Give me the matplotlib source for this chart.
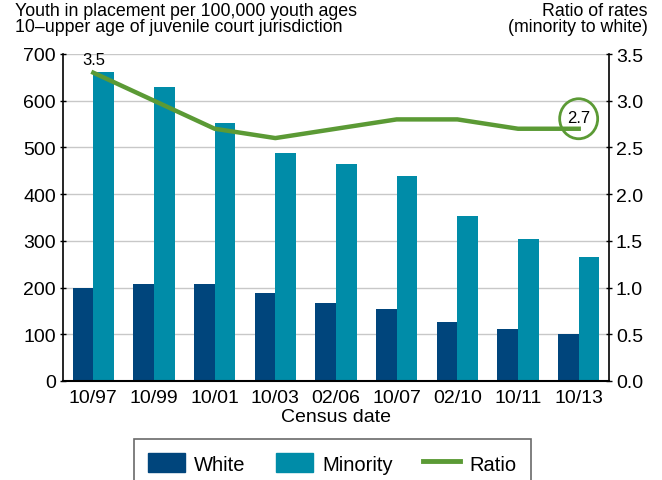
import matplotlib.pyplot as plt
import numpy as np
from matplotlib.patches import Patch, Ellipse
from matplotlib.lines import Line2D

plt.rcParams['font.family'] = ['Liberation Sans', 'DejaVu Sans']

census_dates = ['10/97', '10/99', '10/01', '10/03', '02/06', '10/07', '02/10', '10/11', '10/13']
white_rates = [200, 208, 208, 189, 168, 155, 127, 112, 100]
minority_rates = [661, 629, 553, 489, 465, 439, 354, 305, 266]
ratio_values = [3.3, 3.0, 2.7, 2.6, 2.7, 2.8, 2.8, 2.7, 2.7]
first_label = '3.5'
last_label = '2.7'

WHITE_COLOR = '#00457c'
MINORITY_COLOR = '#008ca8'
RATIO_COLOR = '#5b9a35'


def plot_placement(out_path='out.png'):
    fig = plt.figure(figsize=(6.62, 4.81), dpi=100)
    ax = fig.add_axes([63 / 662, 1 - 382 / 481, (609 - 63) / 662, (382 - 55) / 481])

    x = np.arange(len(census_dates))
    width = 0.34
    ax.bar(x - width / 2, white_rates, width, color=WHITE_COLOR, zorder=2)
    ax.bar(x + width / 2, minority_rates, width, color=MINORITY_COLOR, zorder=2)

    ax.set_xlim(-0.5, len(census_dates) - 0.5)
    ax.set_ylim(0, 700)
    ax.set_yticks(range(0, 701, 100))
    ax.set_xticks(x)
    ax.set_xticklabels(census_dates)
    ax.grid(axis='y', color='#c8c8c8', linewidth=1, zorder=0)
    ax.set_axisbelow(True)
    for side in ['top', 'right']:
        ax.spines[side].set_visible(False)
    ax.spines['left'].set_linewidth(1.2)
    ax.spines['bottom'].set_linewidth(1.5)
    ax.tick_params(axis='y', labelsize=14, length=4, direction='inout', width=1, pad=3)
    ax.tick_params(axis='x', labelsize=14, length=0, pad=6)
    ax.set_xlabel('Census date', fontsize=14, labelpad=1)

    ax2 = ax.twinx()
    ax2.plot(x, ratio_values, color=RATIO_COLOR, linewidth=3.2, zorder=3)
    ax2.set_ylim(0, 3.5)
    ax2.set_yticks(np.arange(0, 3.51, 0.5))
    ax2.set_yticklabels([f'{v:.1f}' for v in np.arange(0, 3.51, 0.5)])
    for side in ['top', 'left', 'bottom']:
        ax2.spines[side].set_visible(False)
    ax2.spines['right'].set_linewidth(1.2)
    ax2.tick_params(axis='y', labelsize=14, length=4, direction='inout', width=1, pad=3)

    ax2.annotate(first_label, (x[0], ratio_values[0]), xytext=(0, 4),
                 textcoords='offset points', ha='center', va='bottom', fontsize=12)
    ax2.annotate(last_label, (x[-1], ratio_values[-1]), xytext=(0, 3),
                 textcoords='offset points', ha='center', va='bottom', fontsize=12)
    circle_center = ax2.transData.transform((x[-1], ratio_values[-1]))
    circ = Ellipse((circle_center[0], circle_center[1] + 10), 38, 40,
                   transform=None, fill=False, edgecolor=RATIO_COLOR, linewidth=2)
    fig.patches.append(circ)

    fig.text(15 / 662, 1 - 3 / 481,
             'Youth in placement per 100,000 youth ages\n10\u2013upper age of juvenile court jurisdiction',
             ha='left', va='top', fontsize=12.8, linespacing=0.9)
    fig.text(648 / 662, 1 - 3 / 481, 'Ratio of rates\n(minority to white)',
             ha='right', va='top', fontsize=12.8, linespacing=0.9)

    handles = [Patch(color=WHITE_COLOR, label='White'),
               Patch(color=MINORITY_COLOR, label='Minority'),
               Line2D([0], [0], color=RATIO_COLOR, linewidth=3.5, label='Ratio')]
    leg = fig.legend(handles=handles, loc='upper center', bbox_to_anchor=(0.502, 1 - 440 / 481),
                     ncol=3, fontsize=14.5, frameon=True, fancybox=False, edgecolor='#444444',
                     handlelength=1.85, handleheight=1.1, handletextpad=0.45,
                     columnspacing=1.5, borderpad=0.7, borderaxespad=0)
    leg.get_frame().set_linewidth(1.2)

    fig.savefig(out_path, dpi=100)


def main():
    plot_placement()


if __name__ == '__main__':
    main()
